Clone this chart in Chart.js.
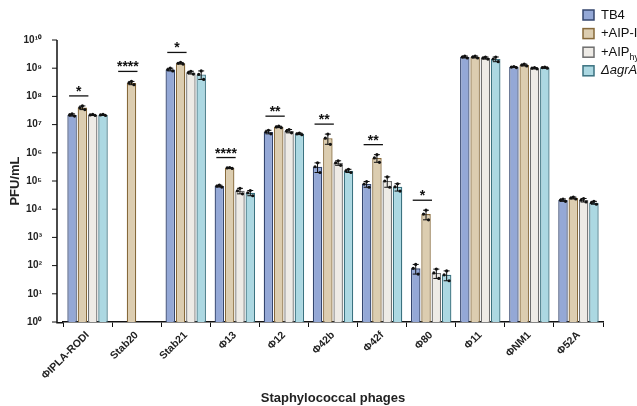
<!DOCTYPE html>
<html>
<head>
<meta charset="utf-8">
<script src="https://cdn.jsdelivr.net/npm/chart.js@4.4.1/dist/chart.umd.min.js"></script>
<style>
  html, body { margin: 0; padding: 0; background: #fff; }
  #wrap { width: 637px; height: 406px; position: relative; }
</style>
</head>
<body>
<div id="wrap"><canvas id="phageChart"></canvas></div>
<script>
// 파지 이름 (x축)
const phages = ['ΦIPLA-RODI', 'Stab20', 'Stab21', 'Φ13', 'Φ12', 'Φ42b', 'Φ42f', 'Φ80', 'Φ11', 'ΦNM1', 'Φ52A'];

// 평균 PFU/mL 값
const tb4    = [2.2e7, null,  9.0e8, 6.6e4, 5.5e6, 3.2e5, 7.8e4, 80,    2.5e9, 1.1e9,  2.1e4];
const aipI   = [4.0e7, 3.0e8, 1.5e9, 2.9e5, 8.3e6, 3.3e6, 6.6e5, 6.7e3, 2.5e9, 1.3e9,  2.5e4];
const aipHyb = [2.2e7, null,  7.0e8, 4.5e4, 5.9e6, 4.4e5, 1.0e5, 55,    2.3e9, 1.0e9,  2.1e4];
const agrA   = [2.2e7, null,  6.0e8, 3.8e4, 4.7e6, 2.3e5, 6.2e4, 47,    2.1e9, 1.05e9, 1.7e4];

// 표준오차 (SEM)
const tb4Err    = [2e6, 0,   1e8, 5e3, 8e5, 1.2e5, 1.8e4, 30,   2e8, 5e7, 2e3];
const aipIErr   = [6e6, 4e7, 1e8, 1e4, 5e5, 1.3e6, 2e5,   2500, 2e8, 1e8, 2e3];
const aipHybErr = [1e6, 0,   8e7, 1e4, 8e5, 8e4,   4e4,   20,   2e8, 5e7, 3e3];
const agrAErr   = [1e6, 0,   2e8, 8e3, 3e5, 3e4,   1.8e4, 18,   4e8, 5e7, 2e3];

// 유의성 표시
const sigLabels = ['*', '****', '*', '****', '**', '**', '**', '*', '', '', ''];

// y축 눈금 (10의 거듭제곱)
const yExponents = [0, 1, 2, 3, 4, 5, 6, 7, 8, 9, 10];

const seriesNames = ['TB4', '+AIP-I', '+AIP', 'ΔagrA'];
const fills   = ['#94a8d6', '#dccdb0', '#eeebe6', '#acd8e2'];
const borders = ['#34466e', '#86693a', '#6e6e6e', '#3b7280'];

const FONT = '"Liberation Sans", Arial, sans-serif';
const AXIS_GAP = 6; // y축 선과 첫 막대 사이 간격
const supDigits = { '0': '⁰', '1': '¹', '2': '²', '3': '³', '4': '⁴', '5': '⁵', '6': '⁶', '7': '⁷', '8': '⁸', '9': '⁹' };
function sup(n) {
    return String(n).split('').map(d => supDigits[d]).join('');
}

const values = [tb4, aipI, aipHyb, agrA];
const errors = [tb4Err, aipIErr, aipHybErr, agrAErr];

// 오차 막대, 점, 유의성 표시, 축선
const overlayPlugin = {
    id: 'overlay',
    afterDatasetsDraw(chart) {
        const ctx = chart.ctx;
        const y = chart.scales.y;
        const area = chart.chartArea;
        ctx.save();

        // y축 선과 눈금 (막대와 약간 떨어진 위치)
        const axX = area.left - AXIS_GAP;
        ctx.strokeStyle = '#111';
        ctx.lineWidth = 1.5;
        ctx.beginPath();
        ctx.moveTo(axX, area.top);
        ctx.lineTo(axX, area.bottom + 0.75);
        ctx.lineTo(area.left, area.bottom + 0.75);
        ctx.stroke();
        ctx.lineWidth = 1;
        yExponents.forEach(e => {
            const py = y.getPixelForValue(Math.pow(10, e));
            ctx.beginPath();
            ctx.moveTo(axX - 5, py);
            ctx.lineTo(axX, py);
            ctx.stroke();
        });

        ctx.fillStyle = '#111';
        values.forEach((series, i) => {
            const meta = chart.getDatasetMeta(i);
            series.forEach((v, j) => {
                if (v == null) return;
                const bar = meta.data[j];
                const e = errors[i][j];
                const top = y.getPixelForValue(v + e);
                const bot = y.getPixelForValue(Math.max(v - e, v * 0.2));
                const mid = y.getPixelForValue(v);
                if (e > 0) {
                    ctx.beginPath();
                    ctx.moveTo(bar.x, top);
                    ctx.lineTo(bar.x, bot);
                    ctx.moveTo(bar.x - 3, top);
                    ctx.lineTo(bar.x + 3, top);
                    ctx.moveTo(bar.x - 3, bot);
                    ctx.lineTo(bar.x + 3, bot);
                    ctx.stroke();
                }
                [[-2.5, mid], [0, top], [2.5, bot]].forEach(([dx, py]) => {
                    ctx.beginPath();
                    ctx.arc(bar.x + dx, py, 1.6, 0, Math.PI * 2);
                    ctx.fill();
                });
            });
        });

        // 유의성 선과 별표
        const m0 = chart.getDatasetMeta(0);
        const m1 = chart.getDatasetMeta(1);
        ctx.font = 'bold 14px ' + FONT;
        ctx.textAlign = 'center';
        ctx.textBaseline = 'alphabetic';
        sigLabels.forEach((lab, j) => {
            if (!lab) return;
            let topPx = y.getPixelForValue(aipI[j] + aipIErr[j]);
            if (tb4[j] != null) topPx = Math.min(topPx, y.getPixelForValue(tb4[j] + tb4Err[j]));
            const lineY = topPx - 10;
            const x0 = m0.data[j].x - 3;
            const x1 = m1.data[j].x + 6;
            ctx.lineWidth = 1.3;
            ctx.beginPath();
            ctx.moveTo(x0, lineY);
            ctx.lineTo(x1, lineY);
            ctx.stroke();
            ctx.fillText(lab, (x0 + x1) / 2, lineY);
        });
        ctx.restore();
    },
    afterDraw(chart) {
        // 범례
        const ctx = chart.ctx;
        ctx.save();
        ctx.font = '13px ' + FONT;
        ctx.textBaseline = 'middle';
        ctx.textAlign = 'left';
        seriesNames.forEach((name, i) => {
            const cy = 15 + i * 18.6;
            ctx.fillStyle = fills[i];
            ctx.fillRect(583, cy - 5, 11, 10);
            ctx.strokeStyle = borders[i];
            ctx.lineWidth = 1.5;
            ctx.strokeRect(583, cy - 5, 11, 10);
            ctx.fillStyle = '#111';
            let x = 601;
            if (i === 2) {
                ctx.fillText(name, x, cy);
                x += ctx.measureText(name).width;
                ctx.font = '9px ' + FONT;
                ctx.fillText('hyb', x, cy + 5);
                ctx.font = '13px ' + FONT;
            } else if (i === 3) {
                ctx.font = 'italic 13px ' + FONT;
                ctx.fillText(name, x, cy);
                ctx.font = '13px ' + FONT;
            } else {
                ctx.fillText(name, x, cy);
            }
        });
        ctx.restore();
    }
};

const datasets = values.map((data, i) => ({
    label: seriesNames[i],
    data: data,
    backgroundColor: fills[i],
    borderColor: borders[i],
    borderWidth: 1.3,
    categoryPercentage: 0.84,
    barPercentage: 0.92
}));

new Chart(document.getElementById('phageChart').getContext('2d'), {
    type: 'bar',
    data: { labels: phages, datasets: datasets },
    plugins: [overlayPlugin],
    options: {
        responsive: true,
        maintainAspectRatio: false,
        animation: false,
        layout: { padding: { top: 40, right: 34, left: 8, bottom: 0 } },
        plugins: {
            legend: { display: false },
            tooltip: { enabled: false }
        },
        scales: {
            x: {
                grid: { display: true, drawOnChartArea: false, drawTicks: true, tickLength: 5, color: '#111' },
                border: { color: '#111', width: 1.5 },
                ticks: {
                    color: '#222',
                    font: { family: FONT, size: 10.5, weight: 'bold' },
                    maxRotation: 45,
                    minRotation: 45,
                    padding: 2
                },
                title: {
                    display: true,
                    text: 'Staphylococcal phages',
                    color: '#222',
                    font: { family: FONT, size: 13, weight: 'bold' },
                    padding: { top: 14, bottom: 0 }
                },
                afterFit: (scale) => { scale.height = 84; }
            },
            y: {
                type: 'logarithmic',
                min: 1,
                max: 1e10,
                afterBuildTicks: (scale) => {
                    scale.ticks = yExponents.map(e => ({ value: Math.pow(10, e) }));
                },
                grid: { display: false },
                border: { display: false },
                ticks: {
                    color: '#222',
                    font: { family: FONT, size: 10, weight: 'bold' },
                    padding: 13,
                    callback: (v) => '10' + sup(Math.round(Math.log10(v)))
                },
                title: {
                    display: true,
                    text: 'PFU/mL',
                    color: '#222',
                    font: { family: FONT, size: 13, weight: 'bold' },
                    padding: { top: 0, bottom: 4 }
                },
                afterFit: (scale) => { scale.width = 55; }
            }
        }
    }
});
</script>
</body>
</html>
